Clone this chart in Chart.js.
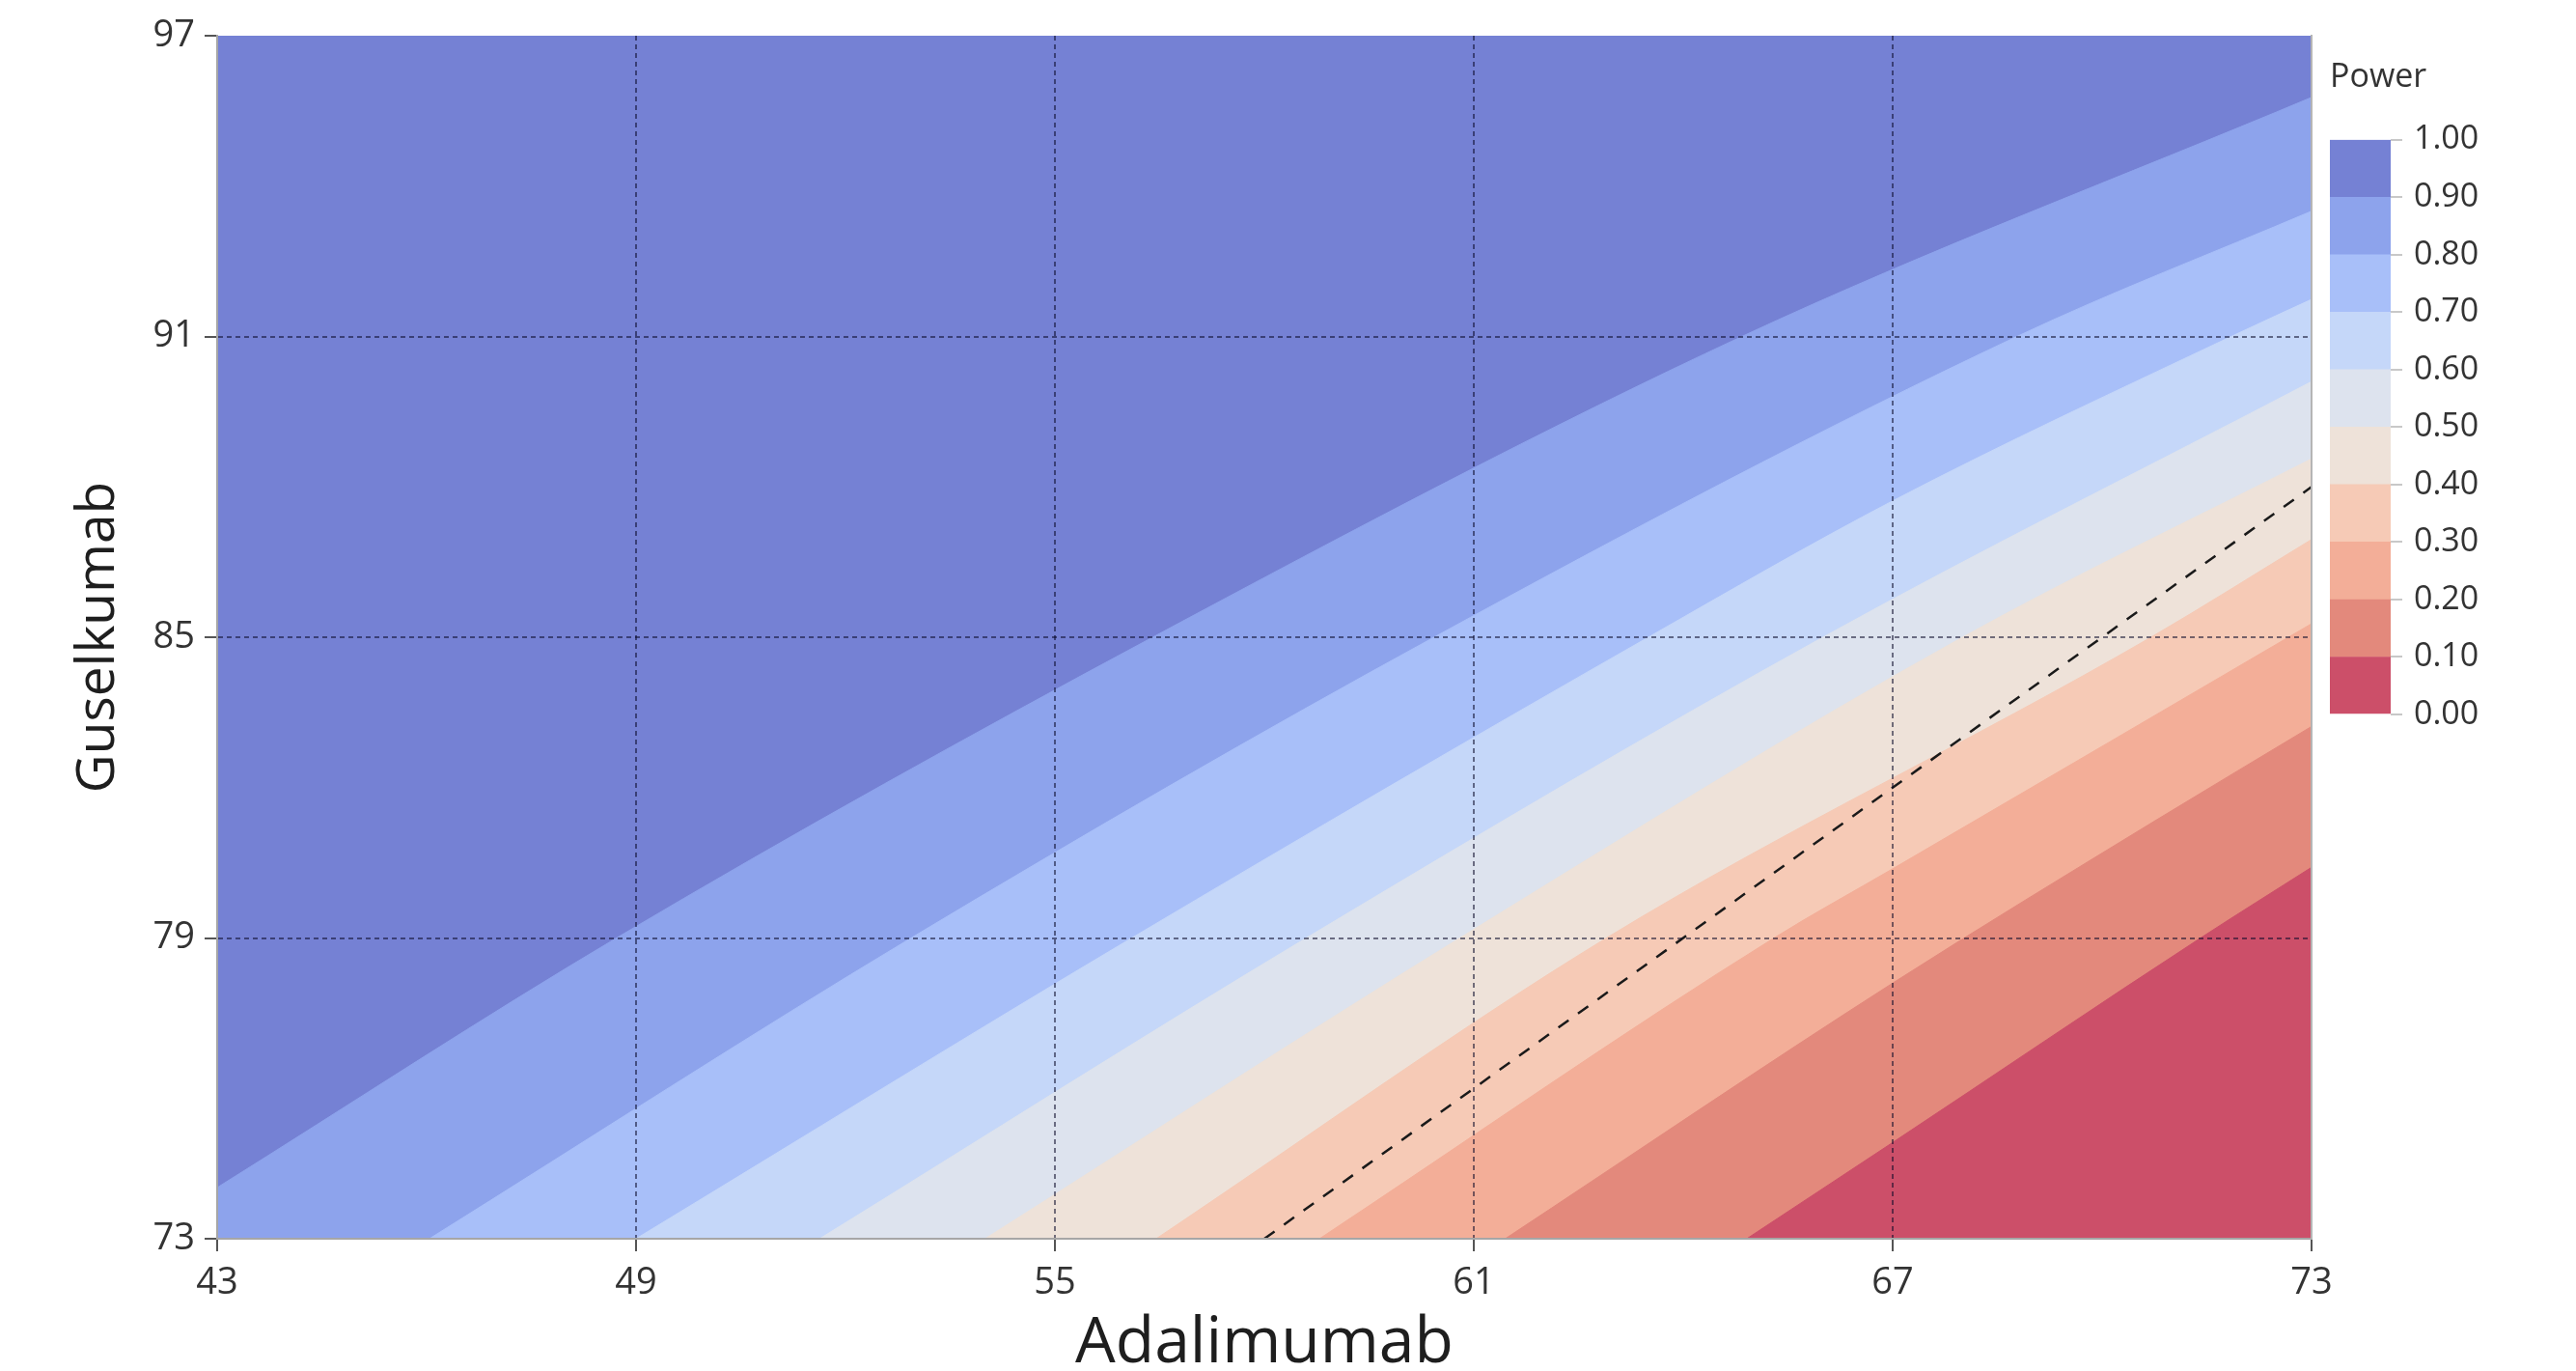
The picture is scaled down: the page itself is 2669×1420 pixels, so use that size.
<!DOCTYPE html>
<html>
<head>
<meta charset="utf-8">
<script src="https://cdn.jsdelivr.net/npm/chart.js@4.4.1/dist/chart.umd.min.js"></script>
<style>
  body { margin: 0; background: #fff; }
  #wrap { position: relative; width: 2669px; height: 1420px; }
  #main { position: absolute; left: 0; top: 0; }
  #bar { position: absolute; left: 2414px; top: 60px; }
</style>
</head>
<body>
<div id="wrap">
  <canvas id="main" width="2669" height="1420"></canvas>
  <canvas id="bar" width="240" height="720"></canvas>
</div>
<script>
// ticks
const X_TICKS = [43, 49, 55, 61, 67, 73];
const Y_TICKS = [73, 79, 85, 91, 97];
const LEVELS = [0, 0.1, 0.2, 0.3, 0.4, 0.5, 0.6, 0.7, 0.8, 0.9, 1.0];

// contour lines [Adalimumab, Guselkumab]
const power10 = [[64.91, 73], [67, 74.92], [71.41, 79], [73, 80.41]];
const power20 = [[61.45, 73], [67, 78.1], [70.76, 81.34], [73, 83.22]];
const power30 = [[58.79, 73], [65.3, 79], [67, 80.38], [73, 85.27]];
const power40 = [[56.45, 73], [62.9, 79], [70.7, 85], [73, 86.95]];
const power50 = [[54.0, 73], [60.8, 79], [68.0, 85], [73, 88.56]];
const power60 = [[51.63, 73], [58.6, 79], [66.0, 85], [73, 90.1]];
const power70 = [[49.0, 73], [56.1, 79], [63.5, 85], [67, 87.72], [71.85, 91], [73, 91.74]];
const power80 = [[46.04, 73], [52.94, 79], [60.43, 85], [68.78, 91], [73, 93.5]];
const power90 = [[43, 74.02], [48.72, 79], [56.4, 85], [64.84, 91], [73, 95.77]];
const topEdge = [[43, 97], [73, 97]];
// dashed reference line
const refLine = [[58, 73], [73, 88]];

// band colours, 0.0-0.1 up to 0.9-1.0
const BAND_COLORS = [
  "#cc4f69",
  "#e3897c",
  "#f3ae98",
  "#f6cab6",
  "#eee2d9",
  "#dde3ee",
  "#c5d7f9",
  "#a8bff9",
  "#8da3ec",
  "#7581d4",
];

const FONT = "'Open Sans', 'Noto Sans', sans-serif";
const toPts = (arr) => arr.map(([x, y]) => ({ x, y }));

const contours = [power10, power20, power30, power40, power50, power60, power70, power80, power90, topEdge];

const bandSets = contours.map((line, i) => ({
  data: toPts(line),
  showLine: true,
  fill: "start",
  backgroundColor: BAND_COLORS[i],
  borderColor: BAND_COLORS[i],
  borderWidth: 1,
  pointRadius: 0,
  cubicInterpolationMode: "monotone",
}));

const refSet = {
  data: toPts(refLine),
  showLine: true,
  fill: false,
  borderColor: "#1a1a1a",
  borderWidth: 2.5,
  borderDash: [13, 12],
  pointRadius: 0,
};

const GRID_COL = "rgba(10,10,40,0.55)";
const xGrid = (ctx) => (ctx.tick && (ctx.tick.value === 43 || ctx.tick.value === 73) ? "rgba(0,0,0,0)" : GRID_COL);
const yGrid = (ctx) => (ctx.tick && (ctx.tick.value === 73 || ctx.tick.value === 97) ? "rgba(0,0,0,0)" : GRID_COL);

new Chart(document.getElementById("main"), {
  type: "scatter",
  data: { datasets: [refSet, ...bandSets] },
  options: {
    responsive: false,
    animation: false,
    layout: { padding: { top: 37, right: 274, bottom: 0, left: 0 } },
    plugins: {
      legend: { display: false },
      tooltip: { enabled: false },
    },
    scales: {
      x: {
        type: "linear",
        min: 43,
        max: 73,
        afterBuildTicks: (s) => { s.ticks = X_TICKS.map((v) => ({ value: v })); },
        afterFit: (s) => { s.height = 137; },
        grid: { z: 1, color: xGrid, lineWidth: 2, tickColor: "#555", tickWidth: 2, tickLength: 13 },
        border: { display: true, color: "#a6a6a6", width: 2, dash: [5, 4], z: 1 },
        ticks: { font: { family: FONT, size: 38 }, color: "#333", padding: 10, maxRotation: 0 },
        title: { display: true, text: "Adalimumab", font: { family: FONT, size: 66, lineHeight: 0.85 }, color: "#1e1e1e", padding: 0 },
      },
      y: {
        type: "linear",
        min: 73,
        max: 97,
        afterBuildTicks: (s) => { s.ticks = Y_TICKS.map((v) => ({ value: v })); },
        afterFit: (s) => { s.width = 225; },
        grid: { z: 1, color: yGrid, lineWidth: 2, tickColor: "#555", tickWidth: 2, tickLength: 13 },
        border: { display: true, color: "#a6a6a6", width: 2, dash: [5, 4], z: 1 },
        ticks: { font: { family: FONT, size: 38 }, color: "#333", padding: 10 },
        title: { display: true, text: "Guselkumab", font: { family: FONT, size: 55, lineHeight: 1.2 }, color: "#1e1e1e", padding: { top: 69, bottom: 0 } },
      },
      y2: {
        type: "linear",
        position: "right",
        min: 0,
        max: 1,
        afterFit: (s) => { s.width = 0; },
        ticks: { display: false },
        grid: { drawOnChartArea: false, drawTicks: false },
        border: { display: true, color: "#b5b5b5", width: 2, z: 1 },
      },
    },
  },
});

// colour bar
const barSets = BAND_COLORS.map((c, i) => ({
  data: [LEVELS[i + 1] - LEVELS[i]],
  backgroundColor: c,
  borderWidth: 0,
  barPercentage: 1,
  categoryPercentage: 1,
}));

new Chart(document.getElementById("bar"), {
  type: "bar",
  data: { labels: ["Power"], datasets: barSets },
  options: {
    responsive: false,
    animation: false,
    layout: { padding: { top: 0, right: 0, bottom: 40, left: 0 } },
    plugins: {
      legend: { display: false },
      tooltip: { enabled: false },
      title: {
        display: true,
        text: "Power",
        align: "start",
        font: { family: FONT, size: 34, weight: "normal" },
        color: "#333",
        padding: { top: 0, bottom: 44 },
      },
    },
    scales: {
      x: { display: false, stacked: true },
      y: {
        position: "right",
        stacked: true,
        min: 0,
        max: 1,
        afterBuildTicks: (s) => { s.ticks = LEVELS.map((v) => ({ value: v })); },
        afterFit: (s) => { s.width = 240 - 63; },
        grid: { drawOnChartArea: false, color: "#c8c8c8", lineWidth: 2, tickLength: 12 },
        border: { display: false },
        ticks: { font: { family: FONT, size: 34 }, color: "#333", padding: 12, callback: (v) => Number(v).toFixed(2) },
      },
    },
  },
});
</script>
</body>
</html>
